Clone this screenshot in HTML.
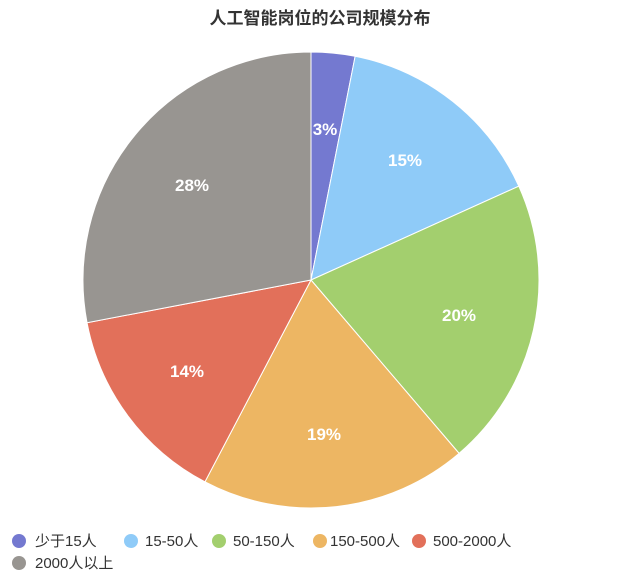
<!DOCTYPE html>
<html><head><meta charset="utf-8"><style>
html,body{margin:0;padding:0;background:#fff;}
body{width:640px;height:576px;overflow:hidden;font-family:"Liberation Sans","Noto Sans CJK SC",sans-serif;}
</style></head><body>
<svg id="s" width="640" height="576" xmlns="http://www.w3.org/2000/svg" style="position:absolute;left:0;top:0">
<text x="320" y="24" text-anchor="middle" font-size="17" font-weight="bold" fill="#333" font-family="Liberation Sans,Noto Sans CJK SC,sans-serif">人工智能岗位的公司规模分布</text>
<g id="pie"></g>
<g font-size="15" fill="#333" font-family="Liberation Sans,Noto Sans CJK SC,sans-serif">
<circle cx="19" cy="541" r="7" fill="#7479d0"/><text x="35" y="546">少于15人</text>
<circle cx="131" cy="541" r="7" fill="#8fcbf8"/><text x="145" y="546">15-50人</text>
<circle cx="219" cy="541" r="7" fill="#a3cf6e"/><text x="233" y="546">50-150人</text>
<circle cx="320" cy="541" r="7" fill="#edb663"/><text x="330" y="546">150-500人</text>
<circle cx="419" cy="541" r="7" fill="#e2705a"/><text x="433" y="546">500-2000人</text>
<circle cx="19" cy="563" r="7" fill="#989591"/><text x="35" y="568">2000人以上</text>
</g>
</svg>
<script>
var cx=311,cy=280,r=228;
var b=[0,3.1,18.25,38.75,57.7,72,100];
var cols=["#7479d0","#8fcbf8","#a3cf6e","#edb663","#e2705a","#989591"];
var labs=["3%","15%","20%","19%","14%","28%"];
var g=document.getElementById("pie"),h="";
function pt(p,rr){var a=p/100*2*Math.PI;return [cx+rr*Math.sin(a),cy-rr*Math.cos(a)];}
for(var i=0;i<6;i++){
 var s=pt(b[i],r),e=pt(b[i+1],r),large=(b[i+1]-b[i])>50?1:0;
 h+='<path d="M'+cx+','+cy+' L'+s[0]+','+s[1]+' A'+r+','+r+' 0 '+large+' 1 '+e[0]+','+e[1]+' Z" fill="'+cols[i]+'" stroke="#fff" stroke-width="1"/>';
}
var lp=[[325,129],[405,160],[459,315],[324,434],[187,371],[192,185]];
for(var i=0;i<6;i++){
 h+='<text x="'+lp[i][0]+'" y="'+(lp[i][1]+6)+'" text-anchor="middle" font-size="17" font-weight="bold" fill="#fff" font-family="Liberation Sans,sans-serif">'+labs[i]+'</text>';
}
g.innerHTML=h;
</script>
</body></html>
